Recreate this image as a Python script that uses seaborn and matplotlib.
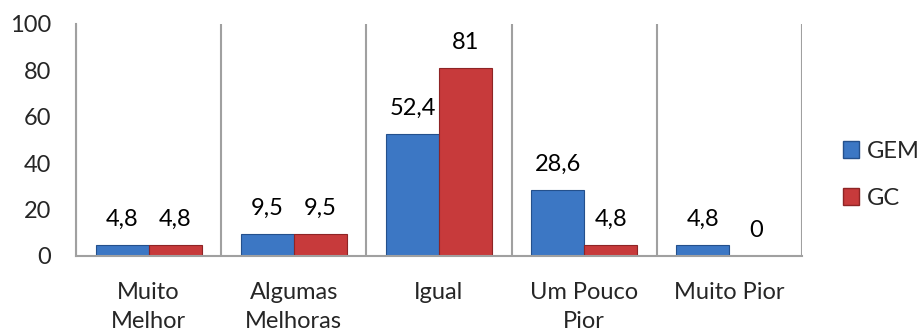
import matplotlib
matplotlib.use("Agg")
import matplotlib.pyplot as plt
import seaborn as sns
import pandas as pd

categories = ["Muito\nMelhor", "Algumas\nMelhoras", "Igual", "Um Pouco\nPior", "Muito Pior"]
series_names = ["GEM", "GC"]
gem_values = [4.8, 9.5, 52.4, 28.6, 4.8]
gc_values = [4.8, 9.5, 81, 4.8, 0]
label_gem = ["4,8", "9,5", "52,4", "28,6", "4,8"]
label_gc = ["4,8", "9,5", "81", "4,8", "0"]
y_ticks = [0, 20, 40, 60, 80, 100]

sns.set_theme(style="white")
plt.rcParams["font.family"] = ["Lato", "DejaVu Sans"]

df = pd.DataFrame({
    "cat": categories * 2,
    "series": [series_names[0]] * 5 + [series_names[1]] * 5,
    "value": gem_values + gc_values,
})

colors = {"GEM": "#3C77C4", "GC": "#C73A3B"}
edges = {"GEM": "#24508C", "GC": "#8E2425"}
fs = 17

fig = plt.figure(figsize=(9.2, 3.33), dpi=100)
ax = fig.add_axes([76 / 920, 1 - 256 / 333, (802 - 76) / 920, (256 - 24) / 333])

sns.barplot(data=df, x="cat", y="value", hue="series", hue_order=series_names,
            palette=colors, width=0.73, gap=0, ax=ax, saturation=1, legend=True)

for cont, name, labs in zip(ax.containers, series_names, [label_gem, label_gc]):
    for bar in cont:
        bar.set_edgecolor(edges[name])
        bar.set_linewidth(0.8)
    ax.bar_label(cont, labels=labs, padding=11, fontsize=fs, color="black")

ax.set_ylim(0, 100)
ax.set_yticks(y_ticks)
ax.set_xlim(-0.5, len(categories) - 0.5)
ax.set_xlabel("")
ax.set_ylabel("")
ax.set_xticks(range(len(categories)))
ax.set_xticklabels(categories, linespacing=1.45)
ax.tick_params(axis="y", length=0, pad=18, labelsize=fs)
ax.tick_params(axis="x", length=0, pad=19, labelsize=fs)
ax.set_xticks([i - 0.5 for i in range(len(categories) + 1)], minor=True)
ax.grid(False)
ax.grid(True, which="minor", axis="x", color="#A0A0A0", linewidth=1.5)

for s in ["top", "right"]:
    ax.spines[s].set_visible(False)
for s in ["left", "bottom"]:
    ax.spines[s].set_color("#A0A0A0")
    ax.spines[s].set_linewidth(1.5)

leg = ax.legend(loc="center left", bbox_to_anchor=(1.04, 0.35), frameon=False,
                fontsize=fs, handlelength=0.7, handleheight=0.7,
                labelspacing=1.1, handletextpad=0.3, borderpad=0)
for h, name in zip(leg.legend_handles, series_names):
    h.set_edgecolor(edges[name])

fig.savefig("out.png", dpi=100)
